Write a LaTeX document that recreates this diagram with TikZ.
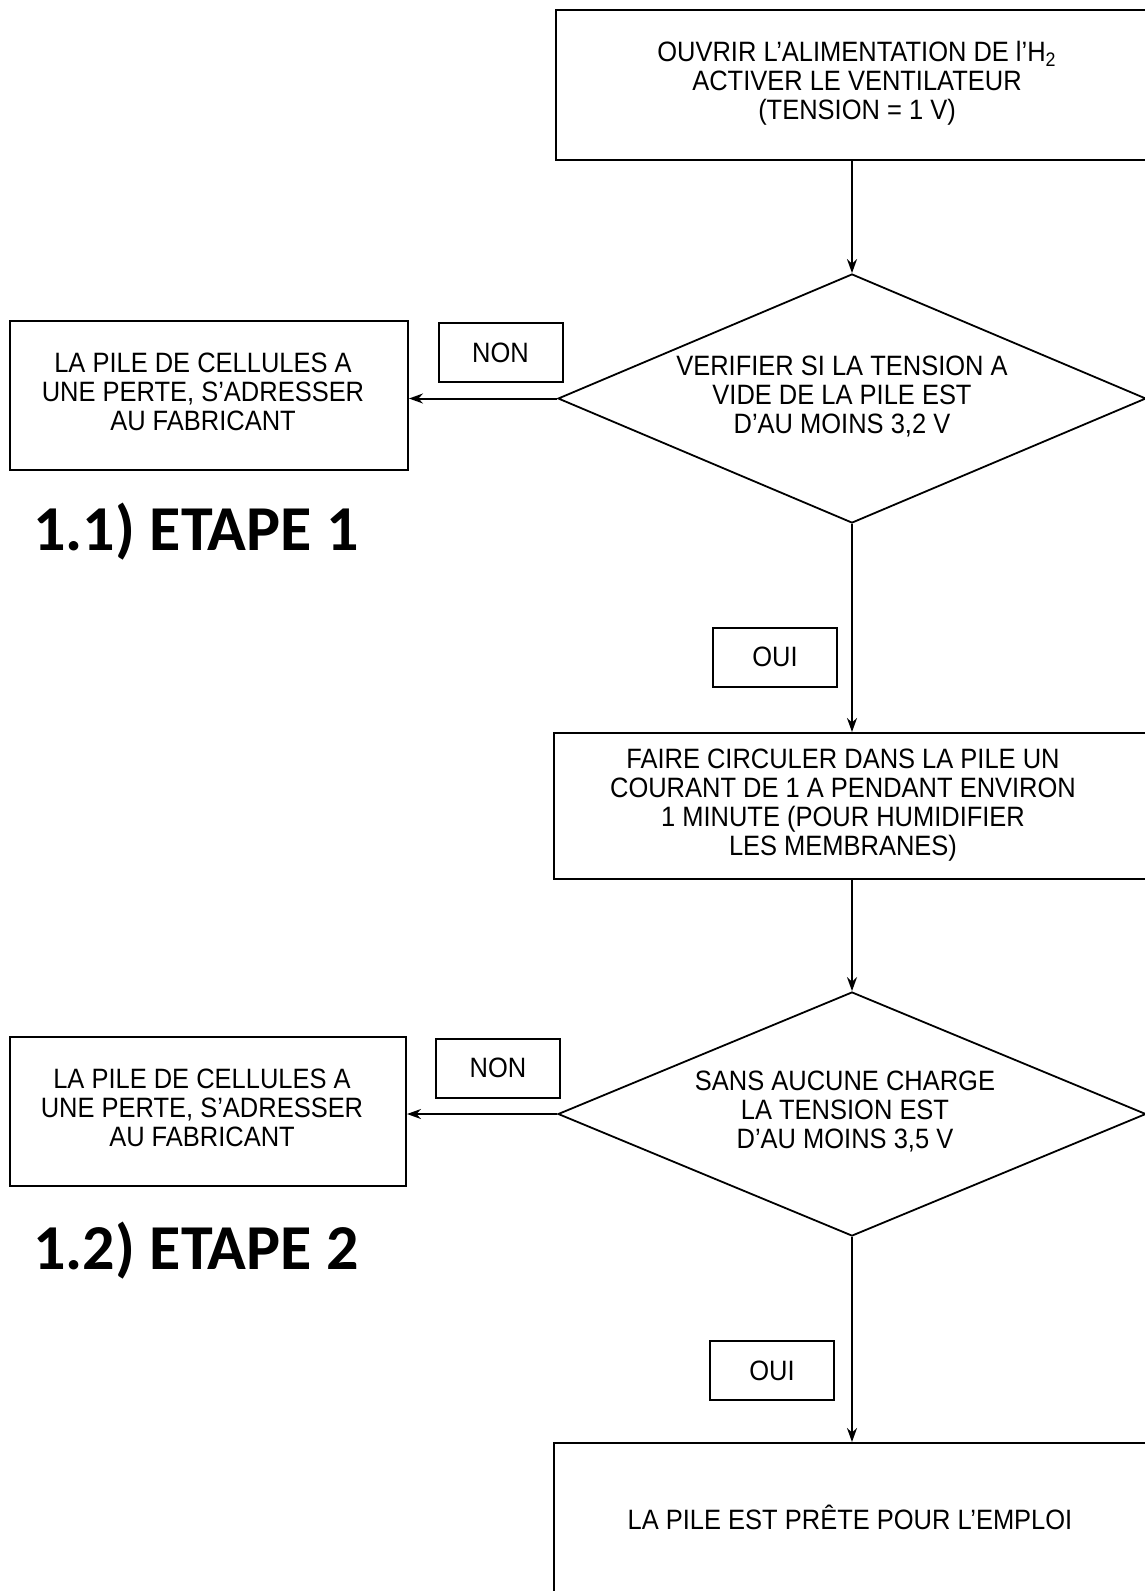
\documentclass[tikz,border=0pt]{standalone}
\usepackage{fontspec}
\setmainfont{Liberation Sans}[FakeStretch=0.91]
\newfontfamily\etapefont{Carlito}
\usetikzlibrary{arrows.meta,shapes.geometric}
\begin{document}
\begin{tikzpicture}[x={(0.5pt,0)}, y={(0,-0.5pt)},
  font=\fontsize{14}{14.5}\selectfont,
  box/.style={draw, line width=1pt, rectangle, inner sep=0pt},
  dec/.style={draw, line width=0.9pt, diamond, aspect=2.36, inner sep=0pt},
  tag/.style={draw, line width=1pt, rectangle, inner sep=0pt, minimum width=62pt, minimum height=29.5pt},
  flow/.style={draw, line width=1pt, -{Stealth[length=7pt,width=5pt]}},
  etape/.style={font=\etapefont\bfseries\fontsize{32}{38}\selectfont, anchor=base west, inner sep=0pt}]

\useasboundingbox (0,0) rectangle (1145,1591);
\clip (0,0) rectangle (1145,1591);
\fill[white] (0,0) rectangle (1145,1591);

% main column
\node[box, minimum width=305pt, minimum height=75pt] (start) at (861,85)
  {\begin{tabular}{@{}c@{\hspace{4pt}}}OUVRIR L'ALIMENTATION DE l'H\textsubscript{2}\\ACTIVER LE VENTILATEUR\\(TENSION = 1 V)\end{tabular}};

\node[dec, minimum width=294pt, minimum height=124.5pt] (d1) at (852,398.5)
  {\begin{tabular}{@{}c@{\hspace{10pt}}}VERIFIER SI LA TENSION A\\VIDE DE LA PILE EST\\D'AU MOINS 3,2 V\end{tabular}};

\node[box, minimum width=303pt, minimum height=73pt] (b2) at (857,806)
  {\begin{tabular}{@{}c@{\hspace{14pt}}}FAIRE CIRCULER DANS LA PILE UN\\COURANT DE 1 A PENDANT ENVIRON\\1 MINUTE (POUR HUMIDIFIER\\LES MEMBRANES)\end{tabular}};

\node[dec, minimum width=294pt, minimum height=122pt] (d2) at (852,1114)
  {\begin{tabular}{@{}c@{\hspace{7pt}}}SANS AUCUNE CHARGE\\LA TENSION EST\\D'AU MOINS 3,5 V\end{tabular}};

\node[box, minimum width=303pt, minimum height=78.5pt] (b3) at (857,1521.5)
  {\begin{tabular}{@{}c@{\hspace{7pt}}}LA PILE EST PRÊTE POUR L'EMPLOI\end{tabular}};

% left boxes
\node[box, minimum width=199pt, minimum height=74.5pt] (l1) at (209,395.5)
  {\begin{tabular}{@{}c@{\hspace{6pt}}}LA PILE DE CELLULES A\\UNE PERTE, S'ADRESSER\\AU FABRICANT\end{tabular}};
\node[box, minimum width=198pt, minimum height=74.5pt] (l2) at (208,1111.5)
  {\begin{tabular}{@{}c@{\hspace{6pt}}}LA PILE DE CELLULES A\\UNE PERTE, S'ADRESSER\\AU FABRICANT\end{tabular}};

% labels
\node[tag] (non1) at (500.5,352.5) {NON};
\node[tag] (non2) at (498,1068) {NON};
\node[tag] (oui1) at (775,657) {OUI};
\node[tag] (oui2) at (772,1370.5) {OUI};

\node[etape] (e1) at (33,550) {1.1) ETAPE 1};
\node[etape] (e2) at (33,1269) {1.2) ETAPE 2};

% connectors
\draw[flow] (start.south -| d1.north) -- (d1.north);
\draw[flow] (d1.west) -- (d1.west -| l1.east);
\draw[flow] (d1.south) -- (d1.south |- b2.north);
\draw[flow] (b2.south -| d2.north) -- (d2.north);
\draw[flow] (d2.west) -- (d2.west -| l2.east);
\draw[flow] (d2.south) -- (d2.south |- b3.north);
\end{tikzpicture}
\end{document}
